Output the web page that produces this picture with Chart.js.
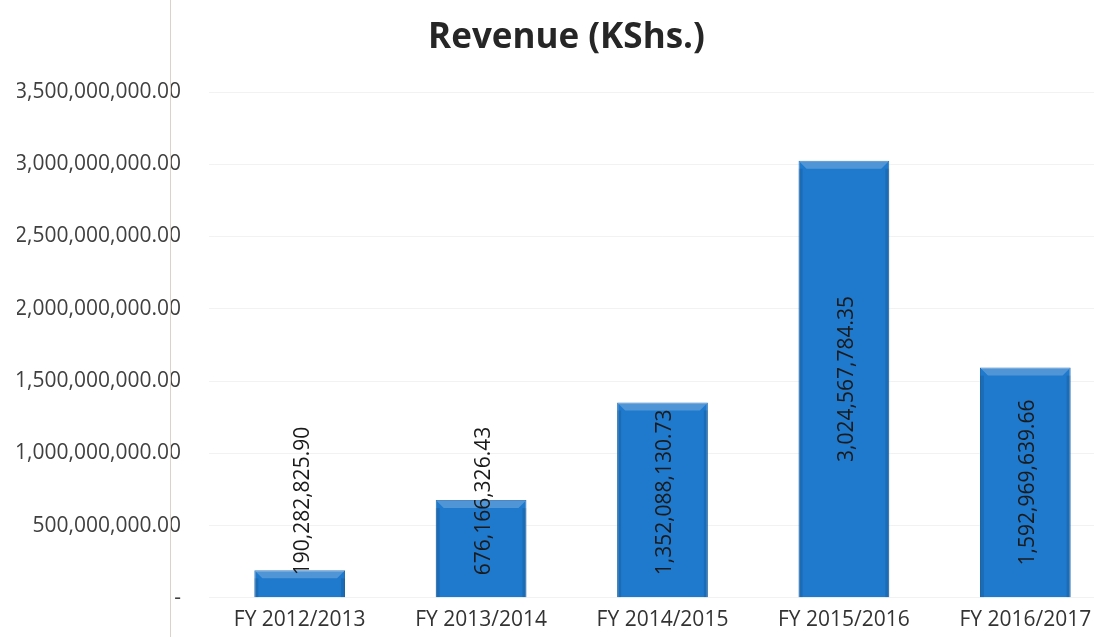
<!DOCTYPE html>
<html>
<head>
<style>
  html, body { margin: 0; padding: 0; background: #fff; overflow: hidden; }
  #wrap { position: relative; width: 1132px; height: 637px; overflow: hidden; }
  #crease { position: absolute; left: 170px; top: 0; width: 1px; height: 637px; background: #dcd3c8; }
</style>
</head>
<body>
<script src="https://cdn.jsdelivr.net/npm/chart.js"></script>
<div id="wrap">
    <canvas id="myChart"></canvas>
    <div id="crease"></div>
</div>

<script>
const categories = ['FY 2012/2013', 'FY 2013/2014', 'FY 2014/2015', 'FY 2015/2016', 'FY 2016/2017'];
const revenue = [190282825.90, 676166326.43, 1352088130.73, 3024567784.35, 1592969639.66];
const yMax = 3500000000;
const yStep = 500000000;

function money(v) {
  return v.toLocaleString('en-US', { minimumFractionDigits: 2, maximumFractionDigits: 2 });
}

// bevel on bar tops + rotated value labels inside the bars
const barLabels = {
  id: 'barLabels',
  afterDatasetsDraw(chart) {
    const ctx = chart.ctx;
    const meta = chart.getDatasetMeta(0);
    ctx.save();
    meta.data.forEach(function(bar) {
      const half = bar.width / 2;
      const b = 8;
      ctx.fillStyle = 'rgba(255,255,255,0.22)';
      ctx.beginPath();
      ctx.moveTo(bar.x - half, bar.y);
      ctx.lineTo(bar.x + half, bar.y);
      ctx.lineTo(bar.x + half - b, bar.y + b);
      ctx.lineTo(bar.x - half + b, bar.y + b);
      ctx.closePath();
      ctx.fill();
      ctx.fillStyle = 'rgba(0,0,0,0.10)';
      ctx.fillRect(bar.x - half, bar.y + b, 4, bar.base - bar.y - b);
      ctx.fillRect(bar.x + half - 4, bar.y + b, 4, bar.base - bar.y - b);
    });
    ctx.font = '21px "Open Sans"';
    ctx.fillStyle = '#1a1a1a';
    ctx.textAlign = 'left';
    ctx.textBaseline = 'middle';
    meta.data.forEach(function(bar, i) {
      const text = money(revenue[i]);
      const w = ctx.measureText(text).width;
      const mid = (bar.y + bar.base) / 2;
      const start = Math.min(mid + w / 2, bar.base - 22);
      ctx.save();
      ctx.translate(bar.x + 3, start);
      ctx.rotate(-Math.PI / 2);
      ctx.fillText(text, 0, 0);
      ctx.restore();
    });
    ctx.restore();
  }
};

const data = {
  labels: categories,
  datasets: [{
    label: 'Revenue',
    data: revenue,
    backgroundColor: '#1f79cc',
    borderColor: '#1767b3',
    borderWidth: 1,
    barPercentage: 0.5,
    categoryPercentage: 1.0
  }]
};

const config = {
  type: 'bar',
  data: data,
  plugins: [barLabels],
  options: {
    responsive: false,
    animation: false,
    layout: {
      padding: { left: 17, right: 16, top: 0, bottom: 5 }
    },
    plugins: {
      legend: { display: false },
      tooltip: { enabled: false },
      title: {
        display: true,
        text: 'Revenue (KShs.)',
        color: '#262626',
        font: { family: 'Open Sans', size: 35, weight: 'bold' },
        padding: { top: 17, bottom: 33 }
      }
    },
    scales: {
      x: {
        grid: { display: false, drawTicks: false },
        border: { display: false },
        ticks: {
          color: '#333',
          font: { family: 'Open Sans', size: 21 },
          padding: 10,
          maxRotation: 0
        }
      },
      y: {
        min: 0,
        max: yMax,
        afterFit: function(scale) { scale.width = 192; },
        grid: { color: 'rgba(0,0,0,0.05)', drawTicks: false },
        border: { display: false },
        ticks: {
          stepSize: yStep,
          color: '#404040',
          font: { family: 'Open Sans', size: 21 },
          padding: 28,
          callback: function(v) { return v === 0 ? '-' : money(v); }
        }
      }
    }
  }
};

const canvas = document.getElementById('myChart');
canvas.width = 1132;
canvas.height = 648;
const myChart = new Chart(canvas, config);
</script>
</body>
</html>
